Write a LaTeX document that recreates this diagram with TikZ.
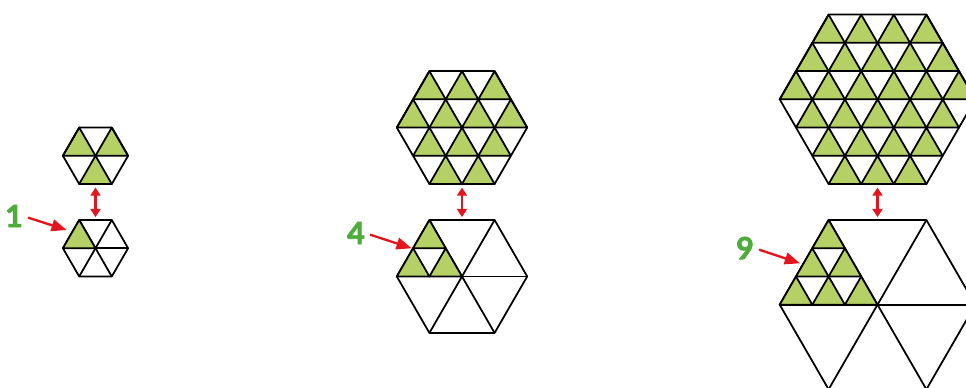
\documentclass[tikz,border=0pt]{standalone}
\usepackage{fontspec}
\newfontfamily\numfont{Lato}[BoldFeatures={FakeBold=2.5}]
\usetikzlibrary{arrows.meta}

\definecolor{leaf}{RGB}{181,209,101}
\definecolor{numgreen}{RGB}{78,172,58}
\definecolor{arrowred}{RGB}{227,21,30}

\tikzset{
    cell/.style={draw=black,fill=leaf,line width=1.5pt,line join=round},
    rim/.style={draw=black,line width=1.5pt,line join=round},
    count/.style={text=numgreen,inner sep=0pt,
        font=\numfont\bfseries\fontsize{26}{26}\selectfont},
    pointer/.style={draw=arrowred,line width=2pt,shorten <=4.5pt,
        -{Triangle[length=13pt,width=10pt]}},
    swap/.style={draw=arrowred,line width=2.2pt,shorten <=3pt,shorten >=2.5pt,
        {Triangle[length=7pt,width=8.5pt]}-{Triangle[length=7pt,width=8.5pt]}},
}

\begin{document}
\begin{tikzpicture}[x=0.03cm,y=-0.03cm]

\useasboundingbox (0,0) rectangle (966,388);

\def\s{32.6}
\def\h{28.23}

\foreach \cx/\n in {95.5/1,462/2,877.5/3}{

    % Top hexagon: every upward cell is green
    \pgfmathsetmacro\ytop{184-2*\n*\h}
    \pgfmathtruncatemacro\rows{2*\n}
    \foreach \r in {1,...,\rows}{
        \pgfmathtruncatemacro\L{\n+min(\r,\rows-\r)}
        \pgfmathsetmacro\yt{\ytop+(\r-1)*\h}
        \pgfmathsetmacro\yb{\ytop+\r*\h}
        \pgfmathsetmacro\xs{\cx-\L*\s/2}
        \foreach \k in {1,...,\L}{
            \draw[cell]
                ({\xs+(\k-1)*\s},\yb)
                -- ({\xs+\k*\s},\yb)
                -- ({\xs+(\k-0.5)*\s},\yt)
                -- cycle;
        }
    }
    \pgfmathsetmacro\R{\n*\s}
    \pgfmathsetmacro\cy{184-\n*\h}
    \draw[rim]
        (\cx-\R,\cy)
        -- (\cx-\R/2,\ytop)
        -- (\cx+\R/2,\ytop)
        -- (\cx+\R,\cy)
        -- (\cx+\R/2,184)
        -- (\cx-\R/2,184)
        -- cycle;

    % Bottom hexagon: six big triangles
    \pgfmathsetmacro\by{220+\n*\h}
    \pgfmathsetmacro\bb{220+2*\n*\h}
    \draw[rim]
        (\cx-\R,\by)
        -- (\cx-\R/2,220)
        -- (\cx+\R/2,220)
        -- (\cx+\R,\by)
        -- (\cx+\R/2,\bb)
        -- (\cx-\R/2,\bb)
        -- cycle;
    \draw[rim] (\cx-\R,\by) -- (\cx+\R,\by);
    \draw[rim] (\cx-\R/2,220) -- (\cx+\R/2,\bb);
    \draw[rim] (\cx+\R/2,220) -- (\cx-\R/2,\bb);

    % Top-left big triangle cut into small ones
    \foreach \i in {1,...,\n}{
        \pgfmathsetmacro\yt{220+(\i-1)*\h}
        \pgfmathsetmacro\yb{220+\i*\h}
        \pgfmathsetmacro\xs{\cx-\R/2-\i*\s/2}
        \foreach \k in {1,...,\i}{
            \draw[cell]
                ({\xs+(\k-1)*\s},\yb)
                -- ({\xs+\k*\s},\yb)
                -- ({\xs+(\k-0.5)*\s},\yt)
                -- cycle;
        }
    }

    % Double arrow between the pair
    \coordinate (up\n) at (\cx,184);
    \coordinate (down\n) at (\cx,220);
    \draw[swap] (up\n) -- (down\n);
}

% Counts
\node[count] (one) at (14,216) {1};
\node[count] (four) at (356,233) {4};
\node[count] (nine) at (745,248) {9};

\coordinate (tip1) at (66.7,230);
\coordinate (tip4) at (411.7,248.3);
\coordinate (tip9) at (800,263.3);

\draw[pointer] (one.east) -- (tip1);
\draw[pointer] (four.east) -- (tip4);
\draw[pointer] (nine.east) -- (tip9);

\end{tikzpicture}
\end{document}
